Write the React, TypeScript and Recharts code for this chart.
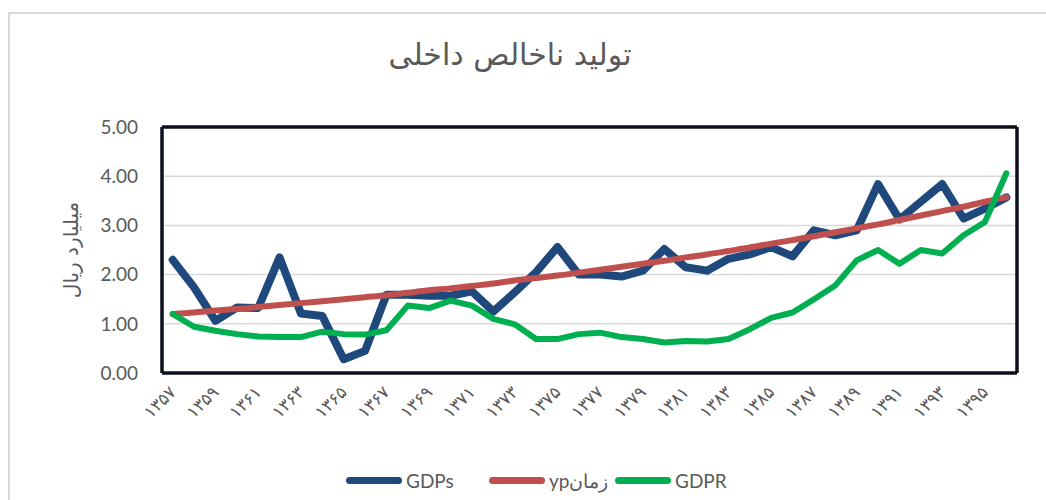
import React from 'react';
import {
  LineChart,
  Line,
  XAxis,
  YAxis,
  CartesianGrid,
  Legend,
} from 'recharts';

const years = [
  1357, 1358, 1359, 1360, 1361, 1362, 1363, 1364, 1365, 1366,
  1367, 1368, 1369, 1370, 1371, 1372, 1373, 1374, 1375, 1376,
  1377, 1378, 1379, 1380, 1381, 1382, 1383, 1384, 1385, 1386,
  1387, 1388, 1389, 1390, 1391, 1392, 1393, 1394, 1395, 1396,
];

const gdps = [
  2.30, 1.74, 1.06, 1.33, 1.32, 2.35, 1.21, 1.16, 0.28, 0.45,
  1.59, 1.59, 1.57, 1.57, 1.66, 1.25, 1.64, 2.05, 2.56, 2.00,
  2.00, 1.96, 2.08, 2.52, 2.15, 2.08, 2.32, 2.41, 2.56, 2.37,
  2.90, 2.80, 2.90, 3.84, 3.12, 3.48, 3.84, 3.14, 3.34, 3.57,
];

// exponential trend of GDPs
const trend = [
  1.20, 1.23, 1.27, 1.30, 1.34, 1.38, 1.42, 1.46, 1.50, 1.54,
  1.58, 1.63, 1.68, 1.72, 1.77, 1.82, 1.88, 1.93, 1.98, 2.04,
  2.10, 2.16, 2.22, 2.28, 2.35, 2.41, 2.48, 2.55, 2.63, 2.70,
  2.78, 2.86, 2.94, 3.02, 3.11, 3.20, 3.29, 3.38, 3.48, 3.57,
];

const gdpr = [
  1.20, 0.94, 0.86, 0.79, 0.74, 0.73, 0.73, 0.84, 0.79, 0.78,
  0.87, 1.37, 1.32, 1.47, 1.37, 1.10, 0.99, 0.69, 0.69, 0.79,
  0.82, 0.73, 0.69, 0.62, 0.65, 0.64, 0.69, 0.89, 1.12, 1.23,
  1.50, 1.78, 2.29, 2.50, 2.22, 2.50, 2.43, 2.80, 3.07, 4.06,
];

const yTicks = [0, 1, 2, 3, 4, 5];

const seriesNames = ['GDPs', 'ypزمان', 'GDPR'];
const seriesColors = ['#1F497D', '#C0504D', '#00B050'];

const title = 'تولید ناخالص داخلی';
const yLabel = 'میلیارد ریال';

const data = years.map((y, i) => ({
  year: String(y),
  gdps: gdps[i],
  trend: trend[i],
  gdpr: gdpr[i],
}));

const W = 1046;
const H = 500;
const plotLeft = 162;
const plotRight = 1017;
const plotTop = 127;
const legendH = 40;
const xAxisH = 87;
const halfBand = (plotRight - plotLeft) / years.length / 2;
const boxColor = '#0b101c';
const grey = '#595959';
const boxLine = { stroke: boxColor, strokeWidth: 3.5 };

const faDigits = '۰۱۲۳۴۵۶۷۸۹';
const toFa = (s: string) => s.replace(/[0-9]/g, (d) => faDigits[Number(d)]);

const YearTick = (props: any) => {
  const { x, y, payload } = props;
  return (
    <text
      x={x}
      y={y}
      transform={`rotate(-45 ${x} ${y})`}
      textAnchor="end"
      dominantBaseline="central"
      fontSize={17}
      fontFamily="DejaVu Sans"
      fill={grey}
    >
      {toFa(String(payload.value))}
    </text>
  );
};

const legendWidths = [143, 126, 120];

const ChartLegend = () => (
  <div style={{ height: legendH, display: 'flex', alignItems: 'center', paddingLeft: 346 }}>
    {seriesNames.map((name, i) => (
      <div key={name} style={{ display: 'flex', alignItems: 'center', width: legendWidths[i] }}>
        <div style={{ width: 56, height: 7, borderRadius: 4, background: seriesColors[i] }} />
        <span style={{ marginLeft: 4, fontFamily: 'Lato', fontSize: 19, color: grey, whiteSpace: 'nowrap' }}>
          {name}
        </span>
      </div>
    ))}
  </div>
);

export default function App() {
  return (
    <div style={{ position: 'absolute', left: 0, top: 0, width: W, height: H, overflow: 'hidden', background: '#fff' }}>
      <div
        style={{
          position: 'absolute',
          left: 8,
          top: 12,
          width: W + 40,
          height: H + 40,
          border: '2px solid #d9d9d9',
        }}
      />
      <div
        style={{
          position: 'absolute',
          left: 0,
          width: W - 26,
          top: 37,
          textAlign: 'center',
          fontFamily: 'DejaVu Sans',
          fontSize: 30,
          color: grey,
        }}
      >
        {title}
      </div>
      <div style={{ position: 'absolute', left: 0, top: 0 }}>
        <LineChart
          width={W}
          height={H}
          data={data}
          margin={{ top: plotTop - 1, right: W - plotRight - 1, bottom: 0, left: 0 }}
        >
          <CartesianGrid vertical={false} stroke="#d9d9d9" strokeWidth={1.5} />
          <XAxis
            dataKey="year"
            height={xAxisH}
            interval={1}
            tickSize={0}
            tickMargin={16}
            tick={<YearTick />}
            padding={{ left: halfBand, right: halfBand }}
            axisLine={boxLine}
            tickLine={false}
          />
          <XAxis
            xAxisId="top"
            orientation="top"
            dataKey="year"
            height={1}
            tick={false}
            tickLine={false}
            axisLine={boxLine}
          />
          <YAxis
            width={plotLeft}
            domain={[0, 5]}
            ticks={yTicks}
            tickSize={0}
            tickMargin={24}
            tickFormatter={(v: number) => v.toFixed(2)}
            tick={{ fontSize: 19, fontFamily: 'Lato', fill: grey }}
            axisLine={boxLine}
            tickLine={false}
            label={{
              content: (p: any) => {
                const vb = p.viewBox;
                const cx = vb.x + 71;
                const cy = vb.y + vb.height / 2;
                return (
                  <text
                    x={cx}
                    y={cy}
                    transform={`rotate(-90 ${cx} ${cy})`}
                    textAnchor="middle"
                    dominantBaseline="central"
                    fontSize={20}
                    fontFamily="DejaVu Sans"
                    fill={grey}
                  >
                    {yLabel}
                  </text>
                );
              },
            }}
          />
          <YAxis
            yAxisId="right"
            orientation="right"
            width={1}
            domain={[0, 5]}
            tick={false}
            tickLine={false}
            axisLine={boxLine}
          />
          <Legend verticalAlign="bottom" content={<ChartLegend />} wrapperStyle={{ left: 0, width: W }} />
          <Line
            dataKey="gdps"
            name={seriesNames[0]}
            stroke={seriesColors[0]}
            strokeWidth={8}
            dot={false}
            strokeLinejoin="round"
            strokeLinecap="round"
            isAnimationActive={false}
          />
          <Line
            dataKey="trend"
            name={seriesNames[1]}
            type="monotone"
            stroke={seriesColors[1]}
            strokeWidth={6}
            dot={false}
            strokeLinecap="round"
            isAnimationActive={false}
          />
          <Line
            dataKey="gdpr"
            name={seriesNames[2]}
            stroke={seriesColors[2]}
            strokeWidth={6}
            dot={false}
            strokeLinejoin="round"
            strokeLinecap="round"
            isAnimationActive={false}
          />
        </LineChart>
      </div>
    </div>
  );
}
